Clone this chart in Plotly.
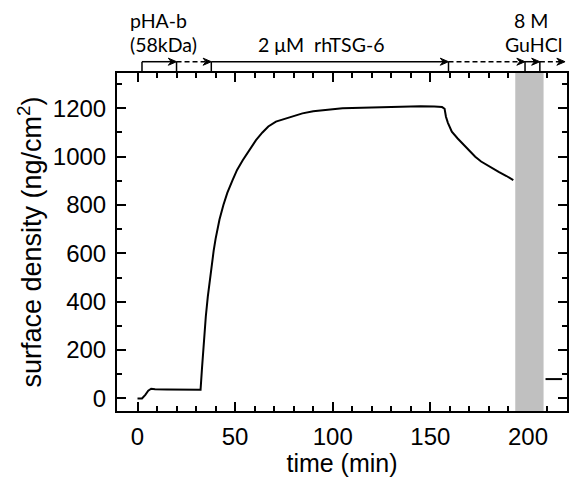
import plotly.graph_objects as go

# ---- data ----
time_main = [0, 2.3, 4, 5.5, 7, 9, 15, 20, 25, 30, 32.3, 33.0, 33.6, 34.3, 35, 36, 37, 38, 39, 40,
             42, 44, 46, 48.7, 51, 53.9, 57, 60.7, 64, 67, 70.9, 73, 76, 80, 84.5, 90, 98, 105,
             110, 120, 130, 137, 145, 152, 156, 157.3, 158, 159, 161, 164, 168, 173, 176, 180,
             185, 189, 192.5]
density_main = [0, 0, 15, 32, 40, 38, 37, 37, 36, 36, 36, 120, 200, 283, 340, 420, 490, 550, 610, 660,
                740, 800, 850, 903, 945, 985, 1025, 1068, 1100, 1125, 1145, 1150, 1156, 1168, 1179, 1188, 1196, 1200,
                1201, 1203, 1205, 1208, 1208, 1207, 1205, 1198, 1165, 1140, 1103, 1075, 1040, 1000, 980, 960,
                937, 920, 903]
time_after = [209, 211, 213, 215, 217.5]
density_after = [80, 81, 79, 80, 80]

band_start, band_end = 193.5, 208.0
phase_bounds = [2.3, 20.0, 37.8, 159.3, 198.5, 206.1, 219.0]
phase_dash = ["solid", "5px,3px", "solid", "5px,3px", "solid", "5px,3px"]
phase_labels = [("pHA-b", -5, 1.156, "left"), ("(58kDa)", -5, 1.085, "left"),
                ("2 \u03bcM  rhTSG-6", 94, 1.085, "center"),
                ("8 M", 201.4, 1.156, "center"), ("GuHCl", 203, 1.085, "center")]

x_ticks = [0, 50, 100, 150, 200]
y_ticks = [0, 200, 400, 600, 800, 1000, 1200]

ARIAL = "Liberation Sans, Arial, sans-serif"
CAL = "Lato, Carlito, Calibri, sans-serif"

fig = go.Figure()
fig.add_trace(go.Scatter(x=time_main, y=density_main, mode="lines",
                         line=dict(color="black", width=2), showlegend=False, hoverinfo="skip"))
fig.add_trace(go.Scatter(x=time_after, y=density_after, mode="lines",
                         line=dict(color="black", width=2), showlegend=False, hoverinfo="skip"))

# gray band
fig.add_shape(type="rect", xref="x", yref="paper", x0=band_start, x1=band_end, y0=0, y1=1,
              fillcolor="#c0c0c0", line=dict(width=0), layer="above")

arrow_y = 1.0334
head_len = 4.2     # in minutes
head_h = 0.0105    # in paper units
for i in range(len(phase_bounds) - 1):
    x0, x1 = phase_bounds[i], phase_bounds[i + 1]
    fig.add_shape(type="line", xref="x", yref="paper", x0=x0, x1=x1 - head_len * 0.6,
                  y0=arrow_y, y1=arrow_y,
                  line=dict(color="black", width=1.5, dash=phase_dash[i]))
    path = (f"M {x1},{arrow_y} L {x1 - head_len},{arrow_y + head_h} "
            f"L {x1 - head_len * 0.65},{arrow_y} L {x1 - head_len},{arrow_y - head_h} Z")
    fig.add_shape(type="path", xref="x", yref="paper", path=path,
                  fillcolor="black", line=dict(color="black", width=1))
for xb in phase_bounds[:-1]:
    fig.add_shape(type="line", xref="x", yref="paper", x0=xb, x1=xb, y0=1.0, y1=arrow_y,
                  line=dict(color="black", width=1.5))

for txt, x, y, anc in phase_labels:
    fig.add_annotation(x=x, y=y, xref="x", yref="paper", text=txt, showarrow=False,
                       xanchor=anc, yanchor="middle", font=dict(family=CAL, size=19.5, color="black"))

axis_common = dict(showline=True, linecolor="black", linewidth=2, mirror="ticks",
                   ticks="inside", ticklen=9, tickwidth=1.5, tickcolor="black",
                   showgrid=False, zeroline=False,
                   tickfont=dict(family=ARIAL, size=24, color="black"))

fig.update_xaxes(range=[-10.5, 220], tickvals=x_ticks, ticklabelstandoff=3,
                 minor=dict(dtick=10, ticks="inside", ticklen=5, tickwidth=1.5, tickcolor="black"),
                 title=dict(text="time (min)", font=dict(family=ARIAL, size=25, color="black"), standoff=4),
                 **axis_common)
fig.update_yaxes(range=[-52, 1346], tickvals=y_ticks, ticklabelstandoff=4,
                 minor=dict(dtick=100, ticks="inside", ticklen=5, tickwidth=1.5, tickcolor="black"),
                 title=dict(text="surface density (ng/cm<sup>2</sup>)", font=dict(family=ARIAL, size=27, color="black"), standoff=3),
                 **axis_common)

fig.update_layout(width=571, height=477, margin=dict(l=117, r=2, t=73, b=66),
                  plot_bgcolor="white", paper_bgcolor="white", hovermode=False)

fig.write_html("out.html", config={"displayModeBar": False},
               post_script="document.body.style.margin='0';document.body.style.overflow='hidden';")
